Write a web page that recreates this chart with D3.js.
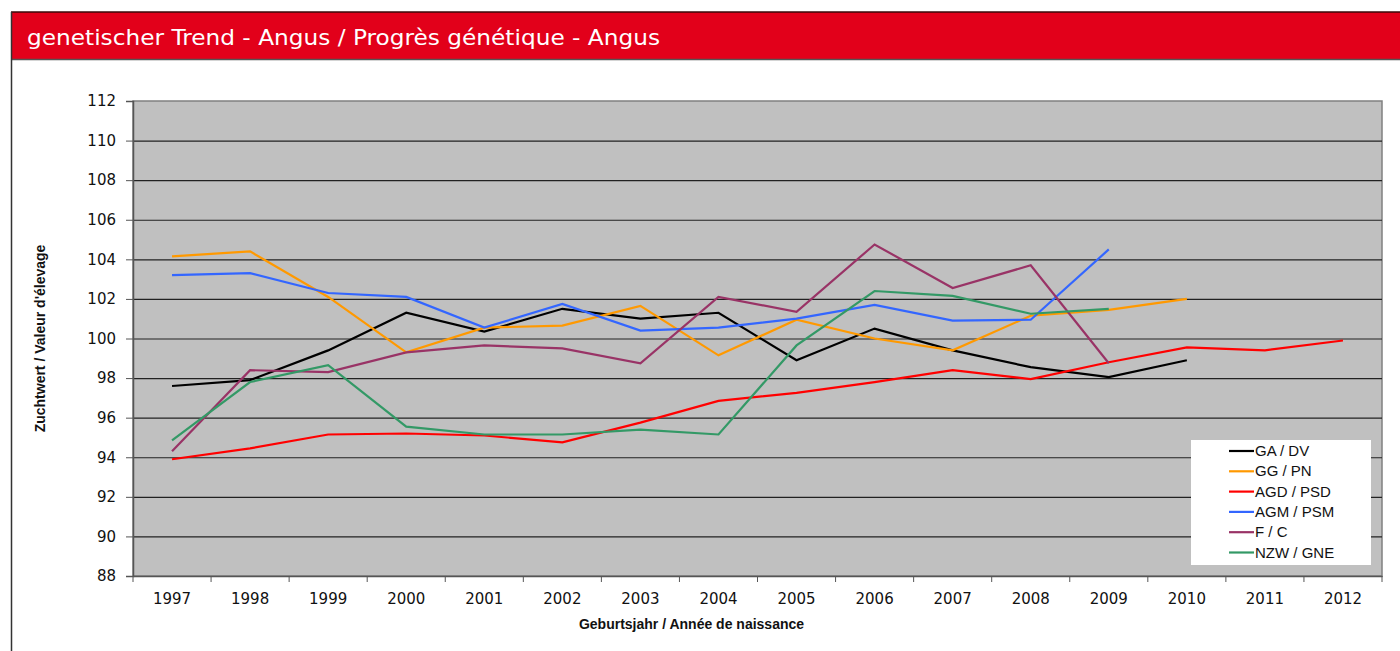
<!DOCTYPE html>
<html>
<head>
<meta charset="utf-8">
<script src="https://cdn.jsdelivr.net/npm/d3@7"></script>
<style>
    body { margin: 0; background: #fff; }
    #chart { width: 1400px; height: 651px; }
</style>
</head>
<body>
<div id="chart"></div>
<script>
// Jahrgaenge / annees
const years = ["1997", "1998", "1999", "2000", "2001", "2002", "2003", "2004",
    "2005", "2006", "2007", "2008", "2009", "2010", "2011", "2012"];
const yTicks = [88, 90, 92, 94, 96, 98, 100, 102, 104, 106, 108, 110, 112];

const gaDv = [97.6, 97.9, 99.4, 101.3, 100.35, 101.5, 101.0, 101.3, 98.9, 100.5, 99.4, 98.55, 98.05, 98.9];
const ggPn = [104.15, 104.4, 102.1, 99.3, 100.55, 100.65, 101.65, 99.15, 100.95, 100.0, 99.4, 101.15, 101.45, 102.0];
const agdPsd = [93.9, 94.45, 95.15, 95.2, 95.1, 94.75, 95.75, 96.85, 97.25, 97.8, 98.4, 97.95, 98.8, 99.55, 99.4, 99.9];
const agmPsm = [103.2, 103.3, 102.3, 102.1, 100.55, 101.75, 100.4, 100.55, 101.0, 101.7, 100.9, 100.95, 104.5];
const fC = [94.3, 98.4, 98.3, 99.3, 99.65, 99.5, 98.75, 102.1, 101.35, 104.75, 102.55, 103.7, 98.75];
const nzwGne = [94.85, 97.8, 98.65, 95.55, 95.15, 95.15, 95.4, 95.15, 99.65, 102.4, 102.15, 101.25, 101.5];

const seriesNames = ["GA / DV", "GG / PN", "AGD / PSD", "AGM / PSM", "F / C", "NZW / GNE"];
const seriesValues = [gaDv, ggPn, agdPsd, agmPsm, fC, nzwGne];
const seriesColors = ["#000000", "#ff9900", "#ff0000", "#3366ff", "#993366", "#339966"];

const width = 1400, height = 651;
const margin = { top: 101, right: 18, bottom: 75, left: 133 };
const innerWidth = width - margin.left - margin.right;
const innerHeight = height - margin.top - margin.bottom;

const svg = d3.select("#chart").append("svg")
    .attr("width", width)
    .attr("height", height);

// Titelbalken
svg.append("rect")
    .attr("x", 11).attr("y", 12)
    .attr("width", width - 11).attr("height", 47)
    .attr("fill", "#e2001a");
svg.append("line")
    .attr("x1", 11).attr("x2", width).attr("y1", 12).attr("y2", 12)
    .attr("stroke", "#3a0a0a").attr("stroke-width", 1.5);
svg.append("line")
    .attr("x1", 11).attr("x2", width).attr("y1", 59.5).attr("y2", 59.5)
    .attr("stroke", "#555").attr("stroke-width", 1.5);
svg.append("line")
    .attr("x1", 11.5).attr("x2", 11.5).attr("y1", 12).attr("y2", height)
    .attr("stroke", "#333").attr("stroke-width", 1.5);
svg.append("text")
    .attr("x", 27).attr("y", 45)
    .attr("fill", "#fff")
    .attr("font-family", "'DejaVu Sans', sans-serif")
    .attr("font-size", "22px")
    .attr("textLength", 633)
    .attr("lengthAdjust", "spacingAndGlyphs")
    .text("genetischer Trend - Angus / Progrès génétique - Angus");

const g = svg.append("g")
    .attr("transform", `translate(${margin.left},${margin.top})`);

const x = d3.scaleBand()
    .domain(years)
    .range([0, innerWidth]);

const y = d3.scaleLinear()
    .domain([88, 112])
    .range([innerHeight, 0]);

g.append("rect")
    .attr("width", innerWidth)
    .attr("height", innerHeight)
    .attr("fill", "#c0c0c0")
    .attr("stroke", "#808080")
    .attr("stroke-width", 1.5);

// Gitterlinien
g.append("g")
    .call(d3.axisLeft(y).tickValues(yTicks.slice(1, -1)).tickSize(-innerWidth).tickFormat(""))
    .call(a => a.select(".domain").remove())
    .selectAll("line")
    .attr("stroke", "#222")
    .attr("stroke-width", 1.2);

// Y-Achse
const yAxis = g.append("g")
    .call(d3.axisLeft(y).tickValues(yTicks).tickSize(7).tickPadding(10));
yAxis.select(".domain").attr("stroke", "#555").attr("stroke-width", 1.5);
yAxis.selectAll("line").attr("stroke", "#555");
yAxis.selectAll("text")
    .attr("fill", "#111")
    .attr("font-family", "'DejaVu Sans', sans-serif")
    .attr("font-size", "15px");

// X-Achse
const xAxis = g.append("g")
    .attr("transform", `translate(0,${innerHeight})`)
    .call(d3.axisBottom(x).tickSize(0).tickPadding(17));
xAxis.select(".domain").attr("stroke", "#555").attr("stroke-width", 1.5);
xAxis.selectAll("text")
    .attr("fill", "#111")
    .attr("font-family", "'DejaVu Sans', sans-serif")
    .attr("font-size", "15px");
xAxis.selectAll("line.sep")
    .data(years.concat(["end"]))
    .enter()
    .append("line")
    .attr("class", "sep")
    .attr("x1", (d, i) => i * x.bandwidth())
    .attr("x2", (d, i) => i * x.bandwidth())
    .attr("y1", 0).attr("y2", 6)
    .attr("stroke", "#555");

// Linien
const line = d3.line()
    .x((d, i) => x(years[i]) + x.bandwidth() / 2)
    .y(d => y(d));

seriesValues.forEach((vals, k) => {
    g.append("path")
        .datum(vals)
        .attr("fill", "none")
        .attr("stroke", seriesColors[k])
        .attr("stroke-width", 2.2)
        .attr("stroke-linejoin", "miter")
        .attr("d", line);
});

// Achsentitel
svg.append("text")
    .attr("transform", `translate(45,${margin.top + innerHeight / 2}) rotate(-90)`)
    .attr("text-anchor", "middle")
    .attr("font-family", "'Liberation Sans Narrow', 'Liberation Sans', sans-serif")
    .attr("font-weight", "bold")
    .attr("font-size", "14px")
    .attr("fill", "#111")
    .text("Zuchtwert / Valeur d'élevage");

svg.append("text")
    .attr("x", margin.left + innerWidth / 2 - 66)
    .attr("y", 629)
    .attr("text-anchor", "middle")
    .attr("font-family", "'Liberation Sans Narrow', 'Liberation Sans', sans-serif")
    .attr("font-weight", "bold")
    .attr("font-size", "14px")
    .attr("fill", "#111")
    .text("Geburtsjahr / Année de naissance");

// Legende
const legend = svg.append("g").attr("transform", "translate(1191,440)");
legend.append("rect")
    .attr("width", 180).attr("height", 125)
    .attr("fill", "#fff");
const items = legend.selectAll("g.item")
    .data(seriesNames)
    .enter()
    .append("g")
    .attr("class", "item")
    .attr("transform", (d, i) => `translate(0,${11 + i * 20.3})`);
items.append("line")
    .attr("x1", 38).attr("x2", 63)
    .attr("stroke", (d, i) => seriesColors[i])
    .attr("stroke-width", 2.2);
items.append("text")
    .attr("x", 64).attr("y", 5)
    .attr("font-family", "'Liberation Sans Narrow', 'Liberation Sans', sans-serif")
    .attr("font-size", "15px")
    .attr("fill", "#111")
    .text(d => d);
</script>
</body>
</html>
